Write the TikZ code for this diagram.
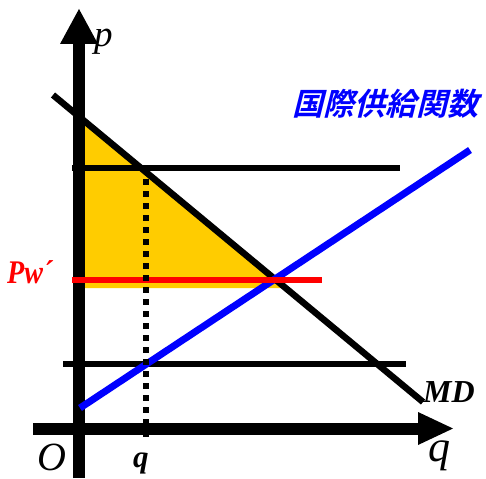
\documentclass[tikz,border=0pt]{standalone}
\usepackage{fontspec}
\newfontfamily\tms{Liberation Serif}
\newfontfamily\cjk[FakeSlant=0.25]{Noto Sans CJK JP Bold}
\definecolor{fillyellow}{RGB}{255,204,0}
\begin{document}
\begin{tikzpicture}[x=1pt,y=-1pt,
  axisline/.style={line width=12pt},
  curve/.style={line width=6.5pt},
  lbl/.style={inner sep=0pt,anchor=base west}]
\useasboundingbox (0,0) rectangle (486,478);
% coordinates
\coordinate (mdA) at (53,95);
\coordinate (mdB) at (423,402);
\coordinate (sA) at (80,408);
\coordinate (sB) at (470,150);
\coordinate (tA) at (79,116.6);
\coordinate (tB) at (285.6,288);
\coordinate (tC) at (79,288);
% yellow surplus
\fill[fillyellow] (tA) -- (tB) -- (tC) -- cycle;
% axes
\coordinate (yax0) at (79,478);
\coordinate (yax1) at (79,44);
\coordinate (xax0) at (33,428.5);
\coordinate (xax1) at (418,428.5);
\draw[axisline] (yax0) -- (yax1);
\fill (60,44) -- (98,44) -- (79,9) -- cycle;
\draw[axisline] (xax0) -- (xax1);
\fill (418,412) -- (418,445) -- (453,428.5) -- cycle;
% horizontal price lines
\coordinate (hA) at (72,168);
\coordinate (hB) at (400,168);
\coordinate (lA) at (63,364);
\coordinate (lB) at (406,364);
\draw[curve] (hA) -- (hB);
\draw[curve] (lA) -- (lB);
% MD
\draw[curve] (mdA) -- (mdB);
% supply
\draw[curve,blue,line width=7pt] (sA) -- (sB);
% Pw'
\coordinate (rA) at (72,280);
\coordinate (rB) at (322,280);
\draw[curve,red,line width=6pt] (rA) -- (rB);
% dotted
\coordinate (dA) at (146,167);
\coordinate (dB) at (146,437);
\draw[line width=5.5pt,dash pattern=on 6pt off 6pt] (dA) -- (dB);
% labels
\node[lbl,font=\tms\fontsize{37}{37}\selectfont\itshape] (plbl) at (94,47) {p};
\node[lbl,font=\tms\fontsize{40}{40}\selectfont\itshape] (olbl) at (37,470) {O};
\node[lbl,font=\tms\fontsize{44}{44}\selectfont\itshape] (qlbl) at (428,461) {q};
\node[lbl,font=\tms\fontsize{31}{31}\selectfont\bfseries\itshape] (qsm) at (133,467) {q};
\node[lbl,font=\tms\fontsize{32}{32}\selectfont\bfseries\itshape] (mdlbl) at (423,402) {MD};
\node[lbl,font=\tms\fontsize{33}{33}\selectfont\bfseries\itshape,text=red] (pwlbl) at (7,283) {\scalebox{0.85}[1]{Pw´}};
\node[inner sep=0pt,font=\cjk\fontsize{31}{31}\selectfont,text=blue] (slbl) at (385,104) {国際供給関数};
\end{tikzpicture}
\end{document}
